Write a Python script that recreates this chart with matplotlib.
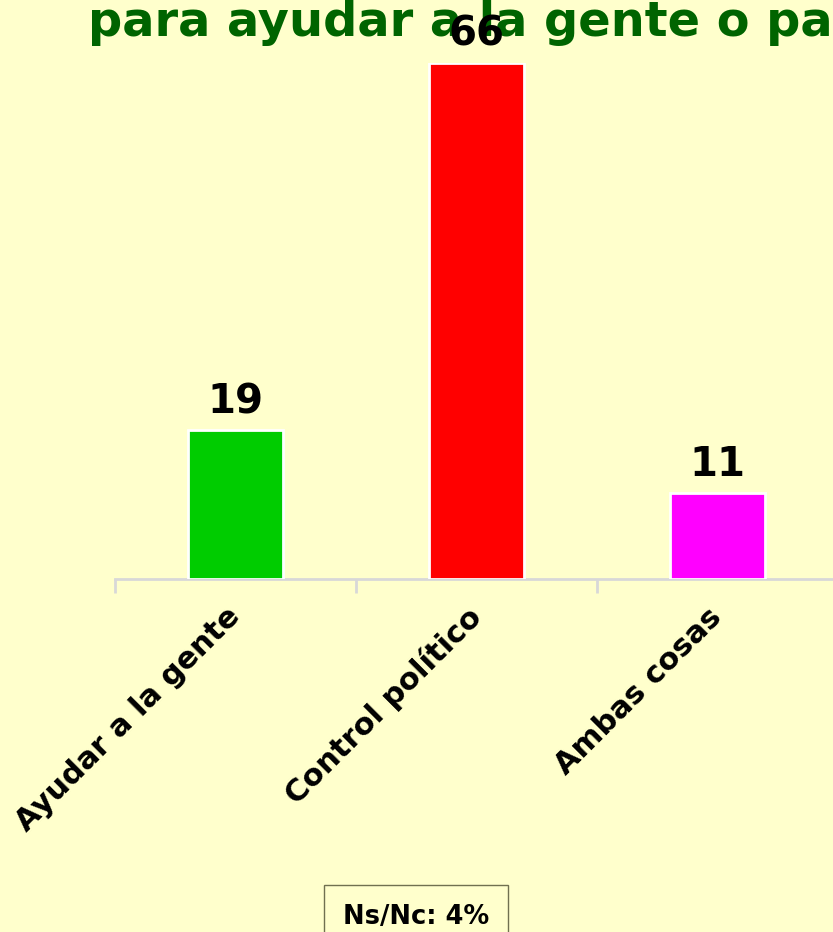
import matplotlib.pyplot as plt
import numpy as np

categories = ["Ayudar a la gente", "Control político", "Ambas cosas"]
values = [19, 66, 11]
bar_colors = ["#00cc00", "#ff0000", "#ff00ff"]
title = "para ayudar a la gente o para control político?"
nsnc = "Ns/Nc: 4%"

bg = "#ffffcc"
fig = plt.figure(figsize=(8.33, 9.32), dpi=100, facecolor=bg)
ax = fig.add_axes([115 / 833, (932 - 579) / 932, (838 - 115) / 833, (579 - 63) / 932])
ax.set_facecolor(bg)

x = np.arange(len(categories))
bars = ax.bar(x, values, width=0.395, color=bar_colors, edgecolor="white", linewidth=2, zorder=3)
for b, v in zip(bars, values):
    ax.annotate(str(v), (b.get_x() + b.get_width() / 2, v), xytext=(0, 6),
                textcoords="offset points", ha="center", va="bottom",
                fontsize=29, fontweight="bold", color="black", annotation_clip=False)

ax.set_xlim(-0.5, len(categories) - 0.5)
ax.set_ylim(0, 66)
for s in ["top", "right", "left"]:
    ax.spines[s].set_visible(False)
ax.spines["bottom"].set_color("#d8d8d8")
ax.spines["bottom"].set_linewidth(2)
ax.set_yticks([])

ax.set_xticks(x)
ax.set_xticklabels(categories, rotation=45, ha="right", va="center", rotation_mode="anchor",
                   fontsize=22, fontweight="bold")
ax.set_xticks(np.arange(len(categories) + 1) - 0.5, minor=True)
ax.tick_params(axis="x", which="major", length=0, pad=24)
ax.tick_params(axis="x", which="minor", length=10, width=2, color="#d8d8d8")

# title sits under the axes so the "66" label is drawn over it
fig.text(88 / 833, 1 - 22 / 932, title, ha="left", va="center", fontsize=34.5,
         fontweight="bold", color="#006400", zorder=-1)

fig.text(416 / 833, 1 - 917 / 932, nsnc, ha="center", va="center", fontsize=18.5,
         fontweight="bold", color="black",
         bbox=dict(boxstyle="square,pad=0.75", facecolor=bg, edgecolor="#707050", linewidth=1))

fig.savefig("out.png", dpi=100, facecolor=bg)
